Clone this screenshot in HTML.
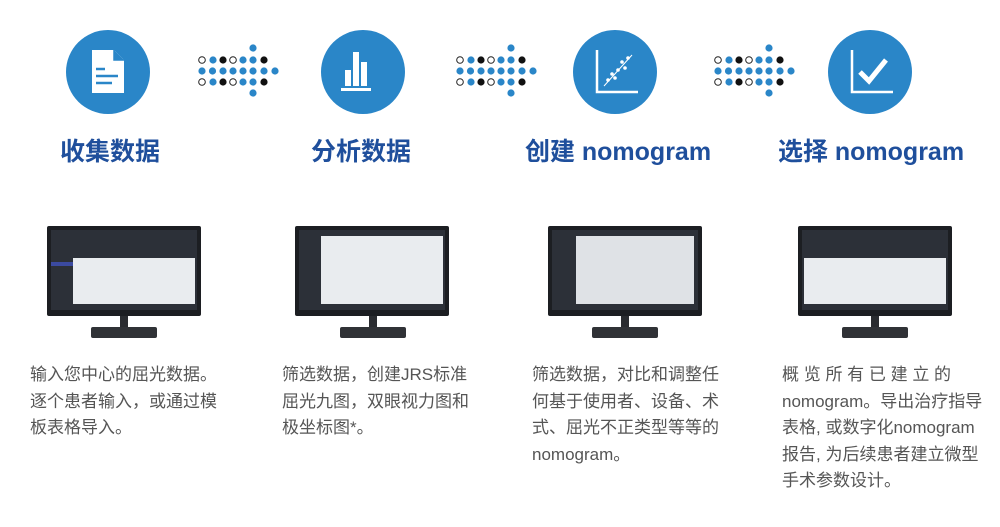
<!DOCTYPE html>
<html><head><meta charset="utf-8"><style>
body{margin:0;width:1000px;height:527px;background:#fff;position:relative;overflow:hidden;font-family:"Liberation Sans","Noto Sans CJK SC",sans-serif}
.c{position:absolute;width:84px;height:84px;border-radius:50%;background:#2a86c8;top:30px}
.t{position:absolute;top:132px;font-size:25px;font-weight:bold;color:#1f4f9c;white-space:nowrap;text-align:center;width:250px}
.p{position:absolute;top:362px;font-size:17px;line-height:26.5px;color:#555;width:200px;white-space:nowrap}
.m{position:absolute;top:226px;width:154px;height:90px;background:#1c1e22;border-radius:2px}
.s{position:absolute;left:4px;top:4px;right:4px;bottom:6px;background:#2c3038}
.w{position:absolute;background:#e9ecef}
.neck{position:absolute;top:316px;width:8px;height:14px;background:#2a2c30}
.base{position:absolute;top:327px;width:66px;height:11px;background:#303236;border-radius:2px}
</style></head><body>
<div class="c" style="left:66px"></div>
<div class="c" style="left:321px"></div>
<div class="c" style="left:573px"></div>
<div class="c" style="left:828px"></div>
<svg width="1000" height="130" style="position:absolute;left:0;top:0">
<g fill="#fff" stroke="none">
<path d="M92 50 H114 L124 60 V93 H92 Z"/>
</g>
<path d="M114 50 V60 H124" fill="#2a86c8" stroke="#2a86c8" stroke-width="1.5"/>
<g stroke="#2a86c8" stroke-width="2.5"><line x1="96" y1="69" x2="105" y2="69"/><line x1="96" y1="76" x2="118" y2="76"/><line x1="96" y1="83" x2="112" y2="83"/></g>
<g fill="#fff"><rect x="345" y="70" width="6" height="16"/><rect x="353" y="52" width="6" height="34"/><rect x="361" y="62" width="6" height="24"/><rect x="341" y="88" width="30" height="3"/></g>
<g stroke="#fff" stroke-width="2.5" fill="none"><path d="M597 50 V92 H638"/><path d="M852 50 V92 H893"/><path d="M860 72 L869 81 L886 60" stroke-width="5"/></g>
<g fill="#fff"><circle cx="608" cy="80" r="1.8"/><circle cx="612" cy="74" r="1.8"/><circle cx="618" cy="70" r="1.8"/><circle cx="622" cy="62" r="1.8"/><circle cx="628" cy="58" r="1.8"/><circle cx="615" cy="78" r="1.8"/><circle cx="625" cy="68" r="1.8"/></g>
<line x1="604" y1="86" x2="632" y2="55" stroke="#fff" stroke-width="1"/>
<g id="a">
<circle cx="253" cy="48" r="3.6" fill="#2a86c8"/>
<circle cx="202" cy="60" r="3.3" fill="#fff" stroke="#222" stroke-width="1"/><circle cx="213" cy="60" r="3.6" fill="#2a86c8"/><circle cx="223" cy="60" r="3.6" fill="#111"/><circle cx="233" cy="60" r="3.3" fill="#fff" stroke="#222" stroke-width="1"/><circle cx="243" cy="60" r="3.6" fill="#2a86c8"/><circle cx="253" cy="60" r="3.6" fill="#2a86c8"/><circle cx="264" cy="60" r="3.6" fill="#111"/>
<g fill="#2a86c8"><circle cx="202" cy="71" r="3.6"/><circle cx="212.5" cy="71" r="3.6"/><circle cx="223" cy="71" r="3.6"/><circle cx="233" cy="71" r="3.6"/><circle cx="243" cy="71" r="3.6"/><circle cx="253" cy="71" r="3.6"/><circle cx="264" cy="71" r="3.6"/><circle cx="275" cy="71" r="3.6"/></g>
<circle cx="202" cy="82" r="3.3" fill="#fff" stroke="#222" stroke-width="1"/><circle cx="213" cy="82" r="3.6" fill="#2a86c8"/><circle cx="223" cy="82" r="3.6" fill="#111"/><circle cx="233" cy="82" r="3.3" fill="#fff" stroke="#222" stroke-width="1"/><circle cx="243" cy="82" r="3.6" fill="#2a86c8"/><circle cx="253" cy="82" r="3.6" fill="#2a86c8"/><circle cx="264" cy="82" r="3.6" fill="#111"/>
<circle cx="253" cy="93" r="3.6" fill="#2a86c8"/>
</g>
<use href="#a" x="258"/>
<use href="#a" x="516"/>
</svg>
<div class="t" style="left:-15px">收集数据</div>
<div class="t" style="left:236px">分析数据</div>
<div class="t" style="left:493px">创建 nomogram</div>
<div class="t" style="left:746px">选择 nomogram</div>

<div class="m" style="left:47px"><div class="s"><div class="w" style="left:22px;top:28px;right:2px;bottom:6px"></div><div style="position:absolute;left:0;top:32px;width:22px;height:4px;background:#3b4aa0"></div></div></div>
<div class="neck" style="left:120px"></div><div class="base" style="left:91px"></div>
<div class="m" style="left:295px"><div class="s"><div class="w" style="left:22px;top:6px;right:2px;bottom:6px"></div></div></div>
<div class="neck" style="left:369px"></div><div class="base" style="left:340px"></div>
<div class="m" style="left:548px"><div class="s"><div class="w" style="left:24px;top:6px;right:4px;bottom:6px;background:#dfe2e6"></div></div></div>
<div class="neck" style="left:621px"></div><div class="base" style="left:592px"></div>
<div class="m" style="left:798px"><div class="s"><div class="w" style="left:2px;top:28px;right:2px;bottom:6px"></div></div></div>
<div class="neck" style="left:871px"></div><div class="base" style="left:842px"></div>

<div class="p" style="left:30px">输入您中心的屈光数据。<br>逐个患者输入，或通过模<br>板表格导入。</div>
<div class="p" style="left:282px">筛选数据，创建JRS标准<br>屈光九图，双眼视力图和<br>极坐标图*。</div>
<div class="p" style="left:532px">筛选数据，对比和调整任<br>何基于使用者、设备、术<br>式、屈光不正类型等等的<br>nomogram。</div>
<div class="p" style="left:782px">概&nbsp;览&nbsp;所&nbsp;有&nbsp;已&nbsp;建&nbsp;立&nbsp;的<br>nomogram。导出治疗指导<br>表格, 或数字化nomogram<br>报告, 为后续患者建立微型<br>手术参数设计。</div>
</body></html>
